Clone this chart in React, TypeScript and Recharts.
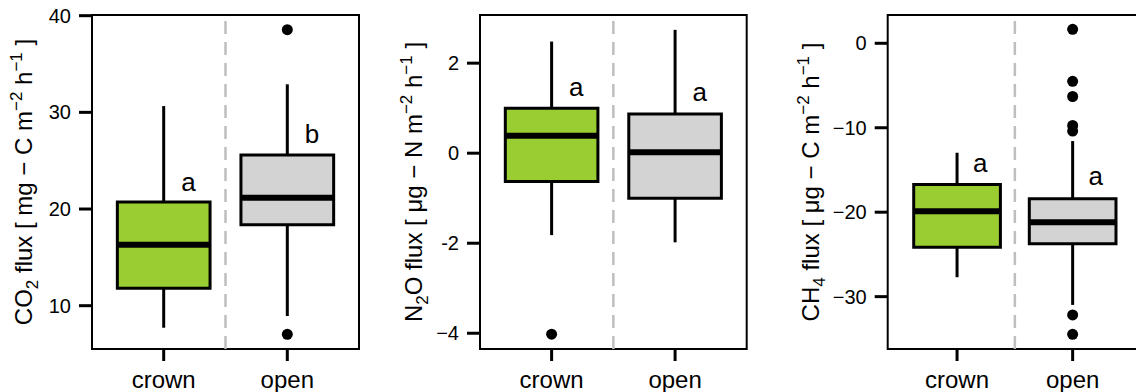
import React from 'react';
import {
  ComposedChart,
  XAxis,
  YAxis,
  ReferenceArea,
  ReferenceLine,
  Scatter,
} from 'recharts';

const FONT = '"Liberation Sans", Arial, Helvetica, sans-serif';

// ---- data ----
const categories = ['crown', 'open'];
const boxColors = ['#9ACD32', '#D3D3D3'];

// CO2 flux
const co2Min = [7.72, 8.93];
const co2Q1 = [11.8, 18.38];
const co2Median = [16.3, 21.17];
const co2Q3 = [20.72, 25.58];
const co2Max = [30.65, 32.9];
const co2OutlierGroup = [2, 2];
const co2OutlierValue = [38.55, 7.04];
const co2Letters = ['a', 'b'];
const co2LetterY = [21.9, 26.86];
const co2Ticks = [10, 20, 30, 40];
const co2TickLabels = ['10', '20', '30', '40'];

// N2O flux
const n2oMin = [-1.82, -1.98];
const n2oQ1 = [-0.63, -1.0];
const n2oMedian = [0.39, 0.02];
const n2oQ3 = [1.0, 0.87];
const n2oMax = [2.48, 2.74];
const n2oOutlierGroup = [1];
const n2oOutlierValue = [-4.02];
const n2oLetters = ['a', 'a'];
const n2oLetterY = [1.26, 1.17];
const n2oTicks = [-4, -2, 0, 2];
const n2oTickLabels = ['\u22124', '-2', '0', '2'];

// CH4 flux
const ch4Min = [-27.7, -30.98];
const ch4Q1 = [-24.15, -23.74];
const ch4Median = [-19.88, -21.18];
const ch4Q3 = [-16.72, -18.41];
const ch4Max = [-12.96, -11.58];
const ch4OutlierGroup = [2, 2, 2, 2, 2, 2, 2];
const ch4OutlierValue = [1.66, -4.5, -6.3, -9.73, -10.4, -32.17, -34.46];
const ch4Letters = ['a', 'a'];
const ch4LetterY = [-15.26, -16.75];
const ch4Ticks = [-30, -20, -10, 0];
const ch4TickLabels = ['\u221230', '\u221220', '\u221210', '0'];

// axis titles: [text, kind] kind: n normal, sub, sup
const co2Title = [
  ['CO', 'n'], ['2', 'sub'], [' flux [ mg \u2212 C m', 'n'], ['\u22122', 'sup'], [' h', 'n'], ['\u22121', 'sup'], [' ]', 'n'],
];
const n2oTitle = [
  ['N', 'n'], ['2', 'sub'], ['O flux [ \u03bcg \u2212 N m', 'n'], ['\u22122', 'sup'], [' h', 'n'], ['\u22121', 'sup'], [' ]', 'n'],
];
const ch4Title = [
  ['CH', 'n'], ['4', 'sub'], [' flux [ \u03bcg \u2212 C m', 'n'], ['\u22122', 'sup'], [' h', 'n'], ['\u22121', 'sup'], [' ]', 'n'],
];

const BOX_HALF = 0.375;

function AxisTitle({ viewBox, offset, parts }: any) {
  const plotLeft = viewBox.x + viewBox.width;
  const bx = plotLeft - offset;
  const cy = viewBox.y + viewBox.height / 2;
  let shift = 0;
  const spans = parts.map((p: any, i: number) => {
    let target = 0;
    let size = 24;
    if (p[1] === 'sub') { target = 6; size = 17; }
    if (p[1] === 'sup') { target = -10; size = 17; }
    const dy = target - shift;
    shift = target;
    return (
      <tspan key={i} dy={dy} fontSize={size}>{p[0]}</tspan>
    );
  });
  return (
    <text
      x={bx}
      y={cy}
      transform={`rotate(-90 ${bx} ${cy})`}
      textAnchor="middle"
      fontFamily={FONT}
      fontSize={24}
      fill="#000"
      style={{ whiteSpace: 'pre' }}
    >
      {spans}
    </text>
  );
}

function Panel(props: any) {
  const {
    left, width, marginLeft, marginRight, xDomain, yDomain, ticks, tickLabels,
    mins, q1s, medians, q3s, maxs, outGroup, outValue, letters, letterY, title, titleOffset,
  } = props;

  const outliers = outValue.map((v: number, i: number) => ({ x: outGroup[i], y: v }));
  const letterData = letters.map((t: string, i: number) => ({ x: i + 1 + 0.2, y: letterY[i], t }));

  return (
    <div style={{ position: 'absolute', left, top: 0 }}>
      <ComposedChart
        width={width}
        height={392}
        margin={{ top: 15, right: marginRight, bottom: 0, left: marginLeft }}
      >
        <XAxis
          type="number"
          dataKey="x"
          domain={xDomain}
          allowDataOverflow
          ticks={[1, 2]}
          interval={0}
          tickFormatter={(v: number) => categories[v - 1]}
          axisLine={false}
          tickLine={{ stroke: '#000', strokeWidth: 3 }}
          tickSize={12}
          tickMargin={10}
          height={43}
          tick={{ fill: '#000', fontSize: 24, fontFamily: FONT }}
        />
        <YAxis
          type="number"
          domain={yDomain}
          allowDataOverflow
          ticks={ticks}
          interval={0}
          tickFormatter={(v: number) => tickLabels[ticks.indexOf(v)]}
          axisLine={false}
          tickLine={{ stroke: '#000', strokeWidth: 3 }}
          tickSize={13}
          tickMargin={8}
          width={92}
          tick={{ fill: '#000', fontSize: 20, fontFamily: FONT }}
          label={{
            content: (p: any) => <AxisTitle viewBox={p.viewBox} offset={titleOffset} parts={title} />,
          }}
        />
        <ReferenceLine
          x={1.5}
          stroke="#BEBEBE"
          strokeWidth={2.5}
          strokeDasharray="13 8"
          isFront={false}
        />
        {categories.map((c, i) => (
          <ReferenceLine
            key={'wu' + c}
            segment={[{ x: i + 1, y: q3s[i] }, { x: i + 1, y: maxs[i] }]}
            stroke="#000"
            strokeWidth={3}
          />
        ))}
        {categories.map((c, i) => (
          <ReferenceLine
            key={'wl' + c}
            segment={[{ x: i + 1, y: mins[i] }, { x: i + 1, y: q1s[i] }]}
            stroke="#000"
            strokeWidth={3}
          />
        ))}
        {categories.map((c, i) => (
          <ReferenceArea
            key={'box' + c}
            x1={i + 1 - BOX_HALF}
            x2={i + 1 + BOX_HALF}
            y1={q1s[i]}
            y2={q3s[i]}
            fill={boxColors[i]}
            fillOpacity={1}
            stroke="#000"
            strokeWidth={3}
          />
        ))}
        {categories.map((c, i) => (
          <ReferenceLine
            key={'med' + c}
            segment={[{ x: i + 1 - BOX_HALF, y: medians[i] }, { x: i + 1 + BOX_HALF, y: medians[i] }]}
            stroke="#000"
            strokeWidth={6}
          />
        ))}
        <ReferenceArea
          x1={xDomain[0]}
          x2={xDomain[1]}
          y1={yDomain[0]}
          y2={yDomain[1]}
          fill="none"
          fillOpacity={0}
          stroke="#000"
          strokeWidth={2}
          ifOverflow="visible"
        />
        <Scatter
          data={outliers}
          dataKey="y"
          isAnimationActive={false}
          shape={(p: any) => <circle cx={p.cx} cy={p.cy} r={5.5} fill="#000" />}
        />
        <Scatter
          data={letterData}
          dataKey="y"
          isAnimationActive={false}
          shape={(p: any) => (
            <text x={p.cx} y={p.cy} textAnchor="middle" fontSize={26} fontFamily={FONT} fill="#000">
              {p.payload.t}
            </text>
          )}
        />
      </ComposedChart>
    </div>
  );
}

export default function App() {
  return (
    <div
      style={{
        position: 'absolute',
        left: 0,
        top: 0,
        width: 1136,
        height: 392,
        overflow: 'hidden',
        background: '#fff',
      }}
    >
      <Panel
        left={0}
        width={372}
        marginLeft={0}
        marginRight={13}
        xDomain={[0.42, 2.58]}
        yDomain={[5.52, 40.07]}
        ticks={co2Ticks}
        tickLabels={co2TickLabels}
        mins={co2Min}
        q1s={co2Q1}
        medians={co2Median}
        q3s={co2Q3}
        maxs={co2Max}
        outGroup={co2OutlierGroup}
        outValue={co2OutlierValue}
        letters={co2Letters}
        letterY={co2LetterY}
        title={co2Title}
        titleOffset={60}
      />
      <Panel
        left={380}
        width={380}
        marginLeft={8}
        marginRight={13.3}
        xDomain={[0.42, 2.58]}
        yDomain={[-4.35, 3.07]}
        ticks={n2oTicks}
        tickLabels={n2oTickLabels}
        mins={n2oMin}
        q1s={n2oQ1}
        medians={n2oMedian}
        q3s={n2oQ3}
        maxs={n2oMax}
        outGroup={n2oOutlierGroup}
        outValue={n2oOutlierValue}
        letters={n2oLetters}
        letterY={n2oLetterY}
        title={n2oTitle}
        titleOffset={58.3}
      />
      <Panel
        left={770}
        width={385}
        marginLeft={25.7}
        marginRight={13}
        xDomain={[0.4, 2.6]}
        yDomain={[-36.2, 3.35]}
        ticks={ch4Ticks}
        tickLabels={ch4TickLabels}
        mins={ch4Min}
        q1s={ch4Q1}
        medians={ch4Median}
        q3s={ch4Q3}
        maxs={ch4Max}
        outGroup={ch4OutlierGroup}
        outValue={ch4OutlierValue}
        letters={ch4Letters}
        letterY={ch4LetterY}
        title={ch4Title}
        titleOffset={68.4}
      />
    </div>
  );
}
